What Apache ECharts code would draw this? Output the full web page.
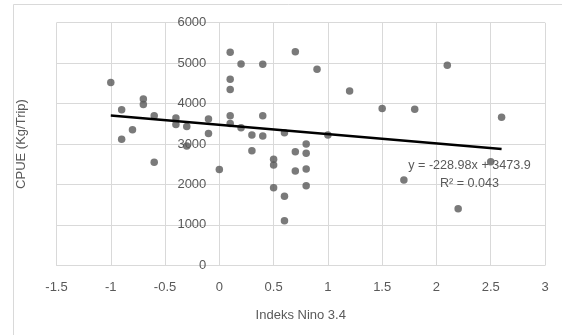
<!DOCTYPE html>
<html>
<head>
<meta charset="utf-8">
<script src="https://cdn.jsdelivr.net/npm/echarts@6/dist/echarts.min.js"></script>
<style>
html,body{margin:0;padding:0;background:#fff;}
#c{width:562px;height:335px;}
</style>
</head>
<body>
<div id="c"></div>
<script>
// Data
var ninoIndex = [-1, -0.9, -0.9, -0.8, -0.7, -0.7, -0.6, -0.6, -0.4, -0.4,
  -0.3, -0.3, -0.1, -0.1, 0, 0.1, 0.1, 0.1, 0.1, 0.1,
  0.2, 0.2, 0.3, 0.3, 0.4, 0.4, 0.4, 0.5, 0.5, 0.5,
  0.6, 0.6, 0.6, 0.7, 0.7, 0.7, 0.8, 0.8, 0.8, 0.8,
  0.9, 1.0, 1.2, 1.5, 1.7, 1.8, 2.1, 2.2, 2.5, 2.6];
var cpue = [4520, 3850, 3120, 3350, 4110, 3980, 3700, 2550, 3640, 3480,
  3430, 2950, 3620, 3260, 2370, 5270, 4600, 4350, 3700, 3510,
  4980, 3400, 3220, 2830, 4970, 3700, 3200, 2620, 2480, 1920,
  3280, 1710, 1100, 5280, 2810, 2330, 3000, 2770, 2380, 1970,
  4850, 3220, 4310, 3880, 2110, 3860, 4950, 1400, 2560, 3660];
var xTicks = [-1.5, -1, -0.5, 0, 0.5, 1, 1.5, 2, 2.5, 3];
var yTicks = [0, 1000, 2000, 3000, 4000, 5000, 6000];
// Trendline from the printed equation
var trendSlope = -228.98;
var trendIntercept = 3473.9;
var trendLabel = "y = -228.98x + 3473.9";
var r2Label = "R\u00b2 = 0.043";
var xTitle = "Indeks Nino 3.4";
var yTitle = "CPUE (Kg/Trip)";

var pts = ninoIndex.map(function(x, i){ return [x, cpue[i]]; });
var xMinData = Math.min.apply(null, ninoIndex);
var xMaxData = Math.max.apply(null, ninoIndex);
var trend = [[xMinData, trendSlope * xMinData + trendIntercept],
             [xMaxData, trendSlope * xMaxData + trendIntercept]];

var FONT = "Liberation Sans";
var TXT = "#595959";
var GRID = "#d9d9d9";

var GRID_LEFT = 56.5, GRID_RIGHT = 17;
var plotW = 562 - GRID_LEFT - GRID_RIGHT;
var xMin = xTicks[0], xMax = xTicks[xTicks.length - 1];
// shift the y axis to sit at x = 0 (Excel crossing)
var yAxisShift = -plotW * (0 - xMin) / (xMax - xMin);

var chart = echarts.init(document.getElementById('c'), null, {renderer: 'canvas'});
chart.setOption({
  animation: false,
  backgroundColor: '#fff',
  grid: {left: GRID_LEFT, right: GRID_RIGHT, top: 22.7, bottom: 69.7, containLabel: false, outerBoundsMode: 'none'},
  xAxis: {
    type: 'value',
    min: xMin, max: xMax, interval: xTicks[1] - xTicks[0],
    name: xTitle, nameLocation: 'middle', nameGap: 44,
    nameTextStyle: {color: TXT, fontFamily: FONT, fontSize: 13},
    axisLine: {show: true, onZero: false, lineStyle: {color: GRID, width: 1}},
    axisTick: {show: false},
    axisLabel: {color: TXT, fontFamily: FONT, fontSize: 13, margin: 16,
      formatter: function(v){ return String(v); }},
    splitLine: {show: true, lineStyle: {color: GRID, width: 1}}
  },
  yAxis: {
    type: 'value',
    position: 'left',
    offset: yAxisShift,
    min: yTicks[0], max: yTicks[yTicks.length - 1], interval: yTicks[1] - yTicks[0],
    name: yTitle, nameLocation: 'middle', nameRotate: 90,
    nameGap: 191,
    nameTextStyle: {color: TXT, fontFamily: FONT, fontSize: 13},
    axisLine: {show: true, onZero: false, lineStyle: {color: GRID, width: 1}},
    axisTick: {show: false},
    axisLabel: {color: TXT, fontFamily: FONT, fontSize: 13, margin: 13,
      formatter: function(v){ return String(v); }},
    splitLine: {show: true, lineStyle: {color: GRID, width: 1}}
  },
  series: [
    {
      type: 'scatter',
      data: pts,
      symbol: 'circle',
      symbolSize: 7.5,
      itemStyle: {color: '#595959'},
      z: 3
    },
    {
      type: 'line',
      data: trend,
      symbol: 'none',
      lineStyle: {color: '#000', width: 2.5},
      z: 4
    }
  ],
  graphic: [
    {type: 'rect', shape: {x: 13.5, y: 4.5, width: 600, height: 400},
     style: {fill: 'none', stroke: GRID, lineWidth: 1}, z: -1, silent: true},
    {type: 'text', x: 469.5, y: 165.7,
     style: {text: trendLabel, fill: TXT, font: '12.6px "Liberation Sans"', align: 'center', verticalAlign: 'middle'}, z: 10},
    {type: 'text', x: 469.5, y: 183.3,
     style: {text: r2Label, fill: TXT, font: '12.6px "Liberation Sans"', align: 'center', verticalAlign: 'middle'}, z: 10}
  ]
});
</script>
</body>
</html>
